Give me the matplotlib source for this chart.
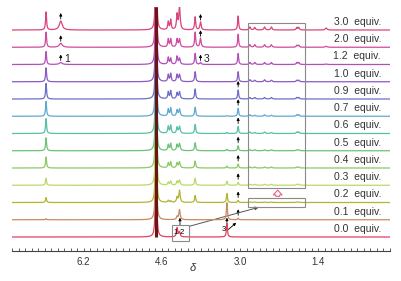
import numpy as np
import matplotlib

matplotlib.use("Agg")
import matplotlib.pyplot as plt
from matplotlib.patches import Rectangle
from matplotlib.ticker import FixedLocator

plt.rcParams["font.family"] = ["Liberation Sans", "DejaVu Sans"]

# titration series, bottom trace first
EQUIV = ["0.0", "0.1", "0.2", "0.3", "0.4", "0.5", "0.6", "0.7", "0.9", "1.0", "1.2", "2.0", "3.0"]
TRACE_COLORS = [
    "#e2425e", "#c98a5e", "#b3b532", "#bcd968", "#8cc964", "#6fc17a", "#58c0a4",
    "#5fa9d2", "#6b6fc9", "#8a5bc2", "#b24fba", "#d04a9e", "#d9447e",
]

# peak positions (ppm), half widths (ppm)
PEAK_PPM = [6.97, 6.67, 4.47, 4.42, 4.29, 4.24, 3.92, 3.81, 3.27, 3.04,
            2.80, 2.70, 2.50, 2.36, 1.84, 1.80, 1.24]
PEAK_HWHM = [0.012, 0.035, 0.013, 0.013, 0.014, 0.016, 0.013, 0.015, 0.012, 0.012,
             0.016, 0.016, 0.016, 0.016, 0.014, 0.014, 0.02]
# peak intensities, one row per trace (same order as EQUIV)
INTENSITY = [
    [0, 0, 0, 0, 9, 5, 0, 0, 14, 0, 0, 0, 0, 0, 0, 0, 0],
    [1, 0, 0, 0, 3, 10, 0, 0, 17, 1.5, 0, 0, 0, 0, 0, 0, 0],
    [5, 0, 2, 1.5, 5, 12, 7, 0, 9, 2, 0.5, 0.5, 0.5, 0.5, 0.5, 0.5, 0],
    [7, 0, 3, 4, 4, 5, 7, 0, 4, 3, 1, 1, 1, 1, 1, 1, 0],
    [11, 0, 5, 6, 5, 6, 7, 0, 2, 4, 1, 1, 1, 1, 1, 1, 0],
    [13, 0, 6, 7, 6, 7, 8, 0, 1.5, 5, 1, 1, 1, 1, 1, 1, 0],
    [15, 0, 7, 8, 6, 7, 9, 0, 1, 7, 1.5, 1, 1.5, 1, 1.5, 1.5, 0],
    [15, 0, 7, 8, 6, 7, 9, 0, 0.5, 8, 1.5, 1, 1.5, 1, 1.5, 1.5, 0],
    [15.5, 0, 7, 8, 6, 7, 10, 0, 0, 9, 1.5, 1.5, 1.5, 1.5, 1.5, 1.5, 0],
    [14, 0, 7, 8, 7, 7, 10, 0, 0, 10, 2, 1.5, 2, 1.5, 1.5, 1.5, 0],
    [13, 2, 7, 6, 8, 6, 11, 2, 0, 11, 2, 2, 2, 2, 2, 2, 0.5],
    [15, 4, 8, 8, 8, 8, 15, 9, 0, 13, 2.5, 2.5, 2.5, 2.5, 2, 2, 1],
    [18, 9, 8, 10, 15, 23, 13, 8, 0, 14, 3, 2.5, 3, 3, 2.5, 2.5, 2],
]
HDO_PPM = 4.72
HDO_INTENSITY = 400
HDO_HWHM = 0.006
SPACING = 17.25  # intensity units per trace offset

# arrows marking growing peaks
ARROW_PEAK_304 = ["0.1", "0.2", "0.3", "0.4", "0.5", "0.6", "0.7", "0.9"]
ARROW_PEAK_1 = ["1.2", "2.0", "3.0"]
ARROW_PEAK_3 = ["1.2", "2.0", "3.0"]

XLIM = (7.667, -0.067)
MAJOR_TICKS = [6.2, 4.6, 3.0, 1.4]


def lorentz(x, x0, h, w):
    return h * w ** 2 / ((x - x0) ** 2 + w ** 2)


def spectrum(x, row):
    y = lorentz(x, HDO_PPM, HDO_INTENSITY, HDO_HWHM)
    for x0, w, h in zip(PEAK_PPM, PEAK_HWHM, row):
        if h > 0:
            y += lorentz(x, x0, h, w)
    return y / SPACING


def small_arrow(ax, x, y0, y1, **kw):
    ax.annotate("", xy=(x, y1), xytext=(x, y0),
                arrowprops=dict(arrowstyle="-|>", lw=0.6, color="black",
                                mutation_scale=4, shrinkA=0, shrinkB=0, **kw))


fig = plt.figure(figsize=(4.01, 2.81), dpi=100)
ax = fig.add_axes([12 / 401, 30 / 281, 378 / 401, 244 / 281])

x = np.linspace(XLIM[0], XLIM[1], 16000)
for i, (label, color, row) in enumerate(zip(EQUIV, TRACE_COLORS, INTENSITY)):
    ax.plot(x, spectrum(x, row) + i, color=color, lw=0.9, zorder=3 + i * 0.01)
    ax.text(0.976, i + 0.47, f"{label}  equiv.", transform=ax.get_yaxis_transform(),
            ha="right", va="center", fontsize=7.5, color="#333333")

top = (237 - 7) / SPACING
ax.set_ylim(-14 / SPACING, top)
ax.set_xlim(*XLIM)
ax.vlines(HDO_PPM, 0, top, color="#6a1616", lw=2.2, zorder=6)


def arrow_above(peak, labels, gap=2.0, length=6.0):
    j = PEAK_PPM.index(peak)
    for lab in labels:
        i = EQUIV.index(lab)
        h = INTENSITY[i][j]
        y0 = i + (h + gap) / SPACING
        small_arrow(ax, peak, y0, y0 + length / SPACING)


arrow_above(3.04, ARROW_PEAK_304, gap=3.0)
arrow_above(6.67, ARROW_PEAK_1, gap=2.0)
arrow_above(3.81, ARROW_PEAK_3, gap=2.0)

i12 = EQUIV.index("1.2")
ax.text(6.60, i12 + 0.32, "1", fontsize=7.5, ha="left", va="center", color="#222222")
ax.text(3.74, i12 + 0.32, "3", fontsize=7.5, ha="left", va="center", color="#222222")

# free-ligand annotations on the bottom traces
ax.add_patch(Rectangle((4.396, -0.21), 4.038 - 4.396, 0.91, fill=False,
                       ec="#8a8a8a", lw=0.8, zorder=7))
ax.text(4.33, 0.28, "1", fontsize=5.5, ha="center", va="center", zorder=8)
ax.text(4.20, 0.28, "2", fontsize=5.5, ha="center", va="center", zorder=8)
small_arrow(ax, 4.23, 0.70, 1.12)
small_arrow(ax, 3.27, 0.86, 1.12)
ax.text(3.33, 0.46, "3", fontsize=5.5, ha="center", va="center")
ax.annotate("", xy=(3.08, 0.82), xytext=(3.24, 0.44),
            arrowprops=dict(arrowstyle="-|>", lw=0.6, color="black",
                            mutation_scale=4, shrinkA=0, shrinkB=0))

# zoom boxes
ax.add_patch(Rectangle((2.844, 2.84), 1.665 - 2.844, 12.41 - 2.84, fill=False,
                       ec="#8a8a8a", lw=0.8, zorder=7))
ax.add_patch(Rectangle((2.844, 1.74), 1.665 - 2.844, 0.52, fill=False,
                       ec="#8a8a8a", lw=0.8, zorder=7))
ax.annotate("", xy=(2.62, 1.72), xytext=(4.04, 0.62),
            arrowprops=dict(arrowstyle="-|>", lw=0.7, color="#555555",
                            mutation_scale=5, shrinkA=0, shrinkB=0))
ax.annotate("", xy=(2.23, 2.72), xytext=(2.23, 2.36),
            arrowprops=dict(arrowstyle="simple,head_length=0.5,head_width=0.9,tail_width=0.4",
                            fc="white", ec="#e8507a", lw=0.7,
                            mutation_scale=7, shrinkA=0, shrinkB=0))

for side in ("left", "right", "top"):
    ax.spines[side].set_visible(False)
ax.spines["bottom"].set_color("#444444")
ax.spines["bottom"].set_linewidth(0.8)
ax.set_yticks([])
ax.xaxis.set_major_locator(FixedLocator(MAJOR_TICKS))
ax.xaxis.set_minor_locator(FixedLocator(np.arange(-0.0667, 7.7, 1.6 / 12)))
ax.tick_params(axis="x", which="both", direction="in", length=2.5, width=0.6,
               color="#444444", labelsize=7, labelcolor="#333333", pad=4)
ax.set_xticklabels([f"{t:.1f}" for t in MAJOR_TICKS])

fig.text(193 / 401, 1 - 268 / 281, "δ", style="italic", fontsize=8,
         ha="center", va="center", color="#333333")

fig.savefig("out.png", dpi=100)
